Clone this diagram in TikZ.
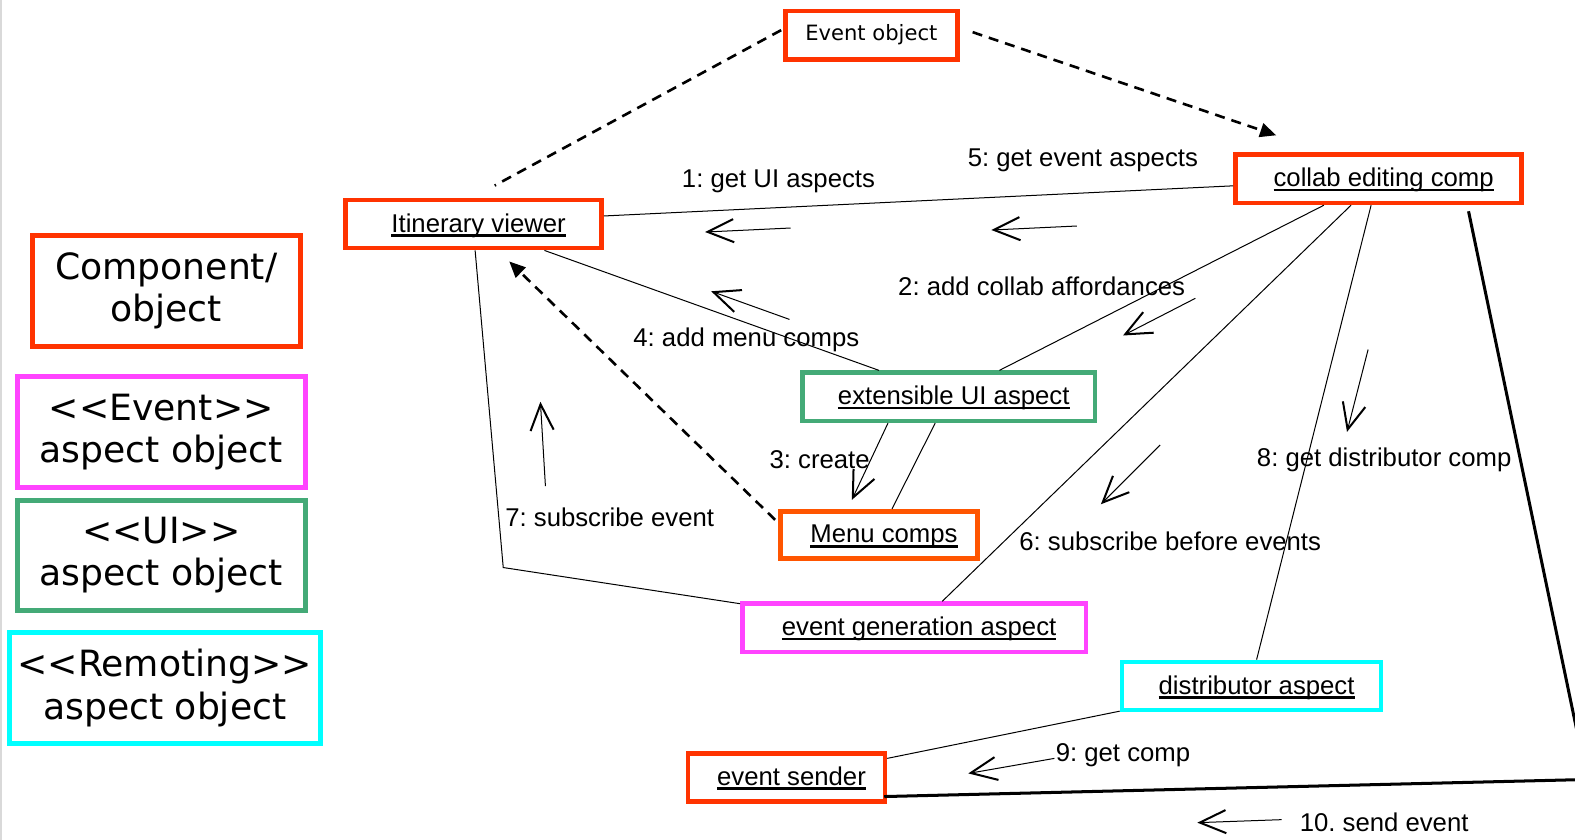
\documentclass[tikz,border=0pt]{standalone}
\usepackage{fontspec}
\setmainfont{Liberation Sans}
\newfontfamily\legendfont{DejaVu Sans}
\usetikzlibrary{arrows.meta,calc}
\frenchspacing
\definecolor{compred}{HTML}{FF3300}
\definecolor{menuorange}{HTML}{FF5500}
\definecolor{eventpink}{HTML}{FF44FF}
\definecolor{uigreen}{HTML}{44AA77}
\definecolor{remcyan}{HTML}{00FFFF}
% underline with a heavier rule than \underline gives
\newcommand\ulx[1]{\setbox0=\hbox{#1}\rlap{\rule[-2.3pt]{\wd0}{1.4pt}}\box0}
\begin{document}
\begin{tikzpicture}[x=0.5pt,y=-0.5pt,
  boxbase/.style={draw, line width=2.3pt, inner sep=0pt, minimum height=24pt},
  obj/.style={boxbase, font=\fontsize{12.8}{15}\selectfont,
    text height=9.5pt, text depth=1.5pt,
    execute at begin node=\hspace*{5pt}},
  evobj/.style={boxbase, font=\legendfont\fontsize{10.5}{12}\selectfont},
  legbox/.style={draw, line width=2.5pt, inner sep=0pt, minimum height=55pt,
    align=center, font=\legendfont\fontsize{18}{21}\selectfont},
  lbl/.style={anchor=base, inner sep=0pt, font=\fontsize{12.8}{15}\selectfont},
  thinln/.style={line width=0.5pt},
  heavyln/.style={line width=1.5pt},
  dsh/.style={line width=1.3pt, dash pattern=on 5pt off 3.5pt},
  tri/.style={-{Triangle[length=8pt,width=7pt]}},
  msg/.style={line width=0.5pt, -{Straight Barb[length=13pt,width=11.5pt,line width=1pt]}}
]
\useasboundingbox (0,0) rectangle (1568,836);
\clip (0,0) rectangle (1568,836);
\draw[black!15, line width=1pt] (1,0) -- (1,836);

% legend
\node[legbox, draw=compred, minimum width=133.5pt] (lgcomp) at (165.5,289.5) {Component/\\object};
\node[legbox, draw=eventpink, minimum width=143.5pt] (lgevent) at (160.5,430) {<<Event>>\\aspect object};
\node[legbox, draw=uigreen, minimum width=143.5pt] (lgui) at (160.5,553) {<<UI>>\\aspect object};
\node[legbox, draw=remcyan, minimum width=155pt] (lgrem) at (164,685) {<<Remoting>>\\aspect object};

% objects
\node[evobj, draw=compred, minimum width=85.5pt] (ev) at (867.5,35) {Event object};
\node[obj, draw=compred, minimum width=127.5pt] (iv) at (471.5,223) {\ulx{Itinerary viewer}};
\node[obj, draw=compred, minimum width=142.5pt] (cl) at (1372.5,178) {\ulx{collab editing comp}};
\node[obj, draw=uigreen, minimum width=145.5pt] (eu) at (944.5,395) {\ulx{extensible UI aspect}};
\node[obj, draw=menuorange, minimum width=98pt, minimum height=23.5pt] (mc) at (875,532.5) {\ulx{Menu comps}};
\node[obj, draw=eventpink, minimum width=171pt] (eg) at (910,625) {\ulx{event generation aspect}};
\node[obj, draw=remcyan, minimum width=129pt] (da) at (1246,683) {\ulx{distributor aspect}};
\node[obj, draw=compred, minimum width=98pt] (es) at (783,774) {\ulx{event sender}};

% links
\draw[dsh] ([shift={(-2,-5)}]ev.west) -- ([shift={(21,-12)}]iv.north);
\draw[dsh,tri] ([shift={(13,-3)}]ev.east) -- ([shift={(-102,-17)}]cl.north);
\draw[thinln] ([shift={(0,-8)}]iv.east) -- ([shift={(0,7)}]cl.west);
\draw[thinln] ([shift={(70.5,0)}]iv.south) -- ([shift={(-69.5,0)}]eu.north);
\draw[thinln] ([shift={(-54.5,0)}]cl.south) -- ([shift={(50.5,0)}]eu.north);
\draw[thinln] ([shift={(-27.5,0)}]cl.south) -- ([shift={(28,0)}]eg.north);
\draw[thinln] ([shift={(-7.5,0)}]cl.south) -- ([shift={(5,0)}]da.north);
\coordinate (rcorner) at (1580,776);
\draw[heavyln] ([shift={(89.5,6)}]cl.south) -- (rcorner) -- ([shift={(-3,19)}]es.east);
\draw[thinln] ([shift={(-13.5,0)}]eu.south) -- ([shift={(13,0)}]mc.north);
\draw[dsh,tri] ([shift={(-3,-15)}]mc.west) -- ([shift={(35.5,11)}]iv.south);
\coordinate (lbend) at (501,565);
\draw[thinln] ([shift={(1.5,0)}]iv.south) -- (lbend) -- ([shift={(0,-24)}]eg.west);
\draw[thinln] ([shift={(0,25)}]da.west) -- ([shift={(0,-19)}]es.east);

% message labels
\node[lbl] (l1) at (775,187) {1: get UI aspects};
\node[lbl] (l5) at (1078,166) {5: get event aspects};
\node[lbl] (l2) at (1037,294) {2: add collab affordances};
\node[lbl] (l4) at (743,345) {4: add menu comps};
\node[lbl] (l3) at (816,466) {3: create};
\node[lbl] (l7) at (607,524) {7: subscribe event};
\node[lbl] (l6) at (1165,548) {6: subscribe before events};
\node[lbl] (l8) at (1378,464) {8: get distributor comp};
\node[lbl] (l9) at (1118,758) {9: get comp};
\node[lbl] (l10) at (1378,828) {10. send event};

% message arrows
\coordinate (m1s) at (787,227);  \coordinate (m1e) at (702,231);
\coordinate (m5s) at (1072,225); \coordinate (m5e) at (987,229);
\coordinate (m2s) at (1190,297); \coordinate (m2e) at (1118,334);
\coordinate (m4s) at (786,318);  \coordinate (m4e) at (708,290);
\coordinate (m7s) at (543,484);  \coordinate (m7e) at (538,400);
\coordinate (m6s) at (1155,443); \coordinate (m6e) at (1096,502);
\coordinate (m8s) at (1362,348); \coordinate (m8e) at (1341,430);
\coordinate (m9e) at (964,770);
\coordinate (m10s) at (1276,816); \coordinate (m10e) at (1192,819);
\draw[msg] (m1s) -- (m1e);
\draw[msg] (m5s) -- (m5e);
\draw[msg] (m2s) -- (m2e);
\draw[msg] (m4s) -- (m4e);
\draw[msg] (m7s) -- (m7e);
\draw[msg] (m6s) -- (m6e);
\draw[msg] (m8s) -- (m8e);
\draw[msg] ([shift={(-1,-3)}]l9.base west) -- (m9e);
\draw[msg] (m10s) -- (m10e);
\draw[msg] ([shift={(-60.5,0)}]eu.south) -- ([shift={(-27,-9)}]mc.north);
\end{tikzpicture}
\end{document}
